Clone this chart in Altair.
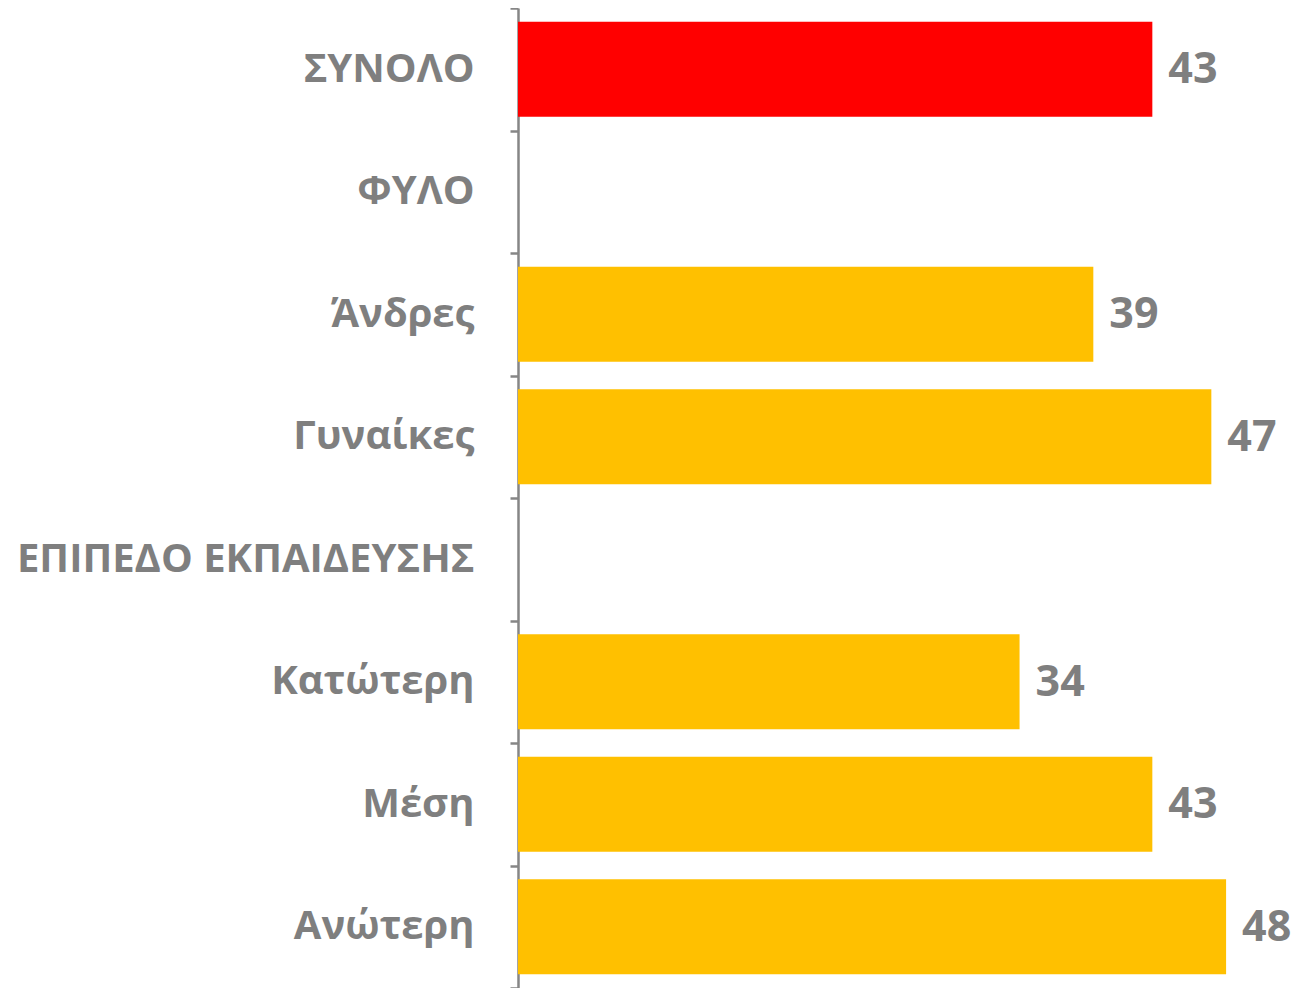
import altair as alt
import pandas as pd

categories = ["ΣΥΝΟΛΟ", "ΦΥΛΟ", "Άνδρες", "Γυναίκες", "ΕΠΙΠΕΔΟ ΕΚΠΑΙΔΕΥΣΗΣ", "Κατώτερη", "Μέση", "Ανώτερη"]
values = [43, None, 39, 47, None, 34, 43, 48]
colors = ["#FF0000", "#FFC000", "#FFC000", "#FFC000", "#FFC000", "#FFC000", "#FFC000", "#FFC000"]

df = pd.DataFrame({"cat": categories, "val": values, "color": colors})

FONT = "Open Sans"
GRAY = "#7F7F7F"

y = alt.Y("cat:N", sort=categories, title=None,
          scale=alt.Scale(paddingInner=0, paddingOuter=0),
          axis=alt.Axis(labelFont=FONT, labelFontSize=40, labelFontWeight="bold",
                        labelColor=GRAY, labelPadding=36, tickBand="extent",
                        tickSize=8, tickWidth=2.5, tickColor="#868686",
                        domainColor="#868686", domainWidth=2.5, labelLimit=600))
x = alt.X("val:Q", title=None, scale=alt.Scale(domain=[0, 52.4], nice=False),
          axis=None)

base = alt.Chart(df).transform_filter("isValid(datum.val)")
bars = base.mark_bar(height={"band": 0.775}).encode(
    x=x, y=y, color=alt.Color("color:N", scale=None))
text = base.mark_text(align="left", baseline="middle", dx=16, dy=1, font=FONT,
                      fontSize=43, fontWeight="bold", color=GRAY).encode(
    x=x, y=y, text=alt.Text("val:Q"))

# all categories on axis
axis_layer = alt.Chart(df).mark_point(opacity=0).encode(y=y)

chart = alt.layer(axis_layer, bars, text).properties(
    width=773, height=980,
    autosize=alt.AutoSizeParams(type="none"),
    padding={"left": 510, "top": 0, "right": 0, "bottom": 0},
).configure_view(stroke=None).configure_axis(grid=False)

chart.save("out.html", embed_options={"renderer": "svg", "actions": False})
